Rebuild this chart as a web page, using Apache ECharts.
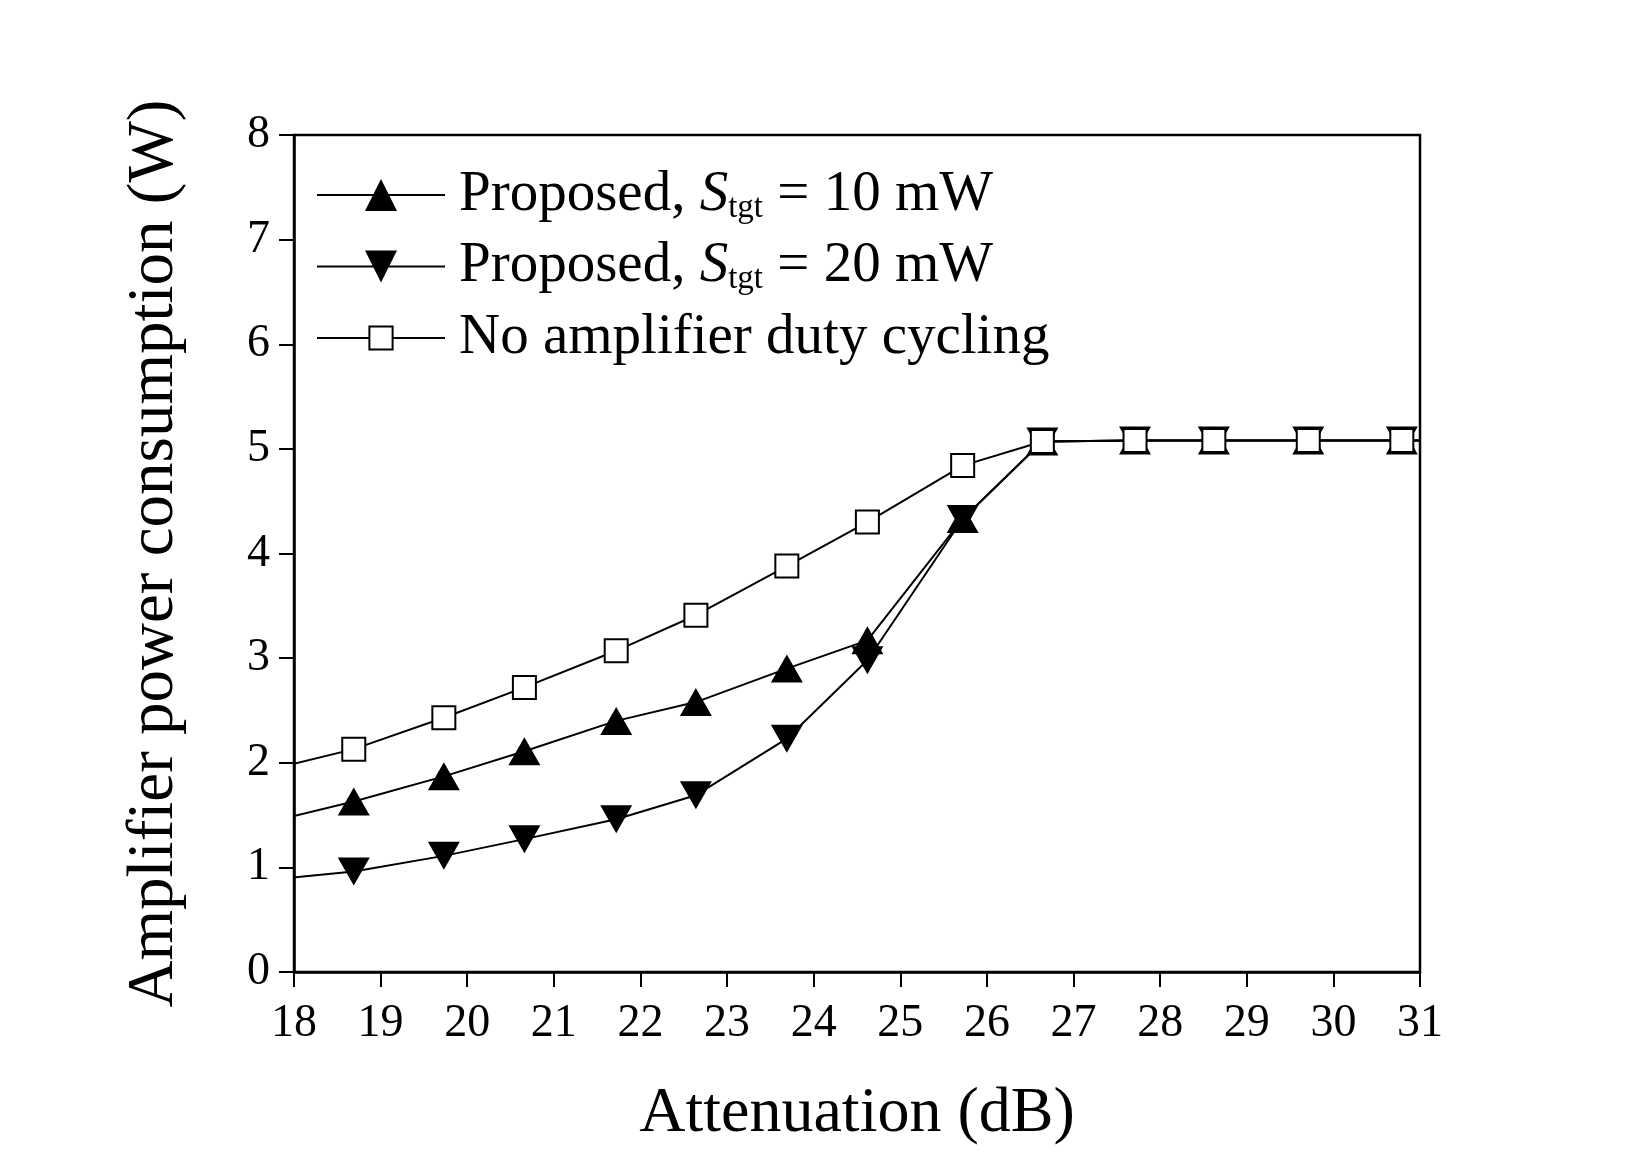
<!DOCTYPE html>
<html>
<head>
<meta charset="utf-8">
<script src="https://cdn.jsdelivr.net/npm/echarts@6/dist/echarts.min.js"></script>
<style>
  html, body { margin: 0; padding: 0; background: #fff; }
  #chart { width: 1650px; height: 1167px; }
</style>
</head>
<body>
<div id="chart"></div>
<script>
  // 数据（首尾各一点落在坐标范围外，由网格裁剪）
  var attenuation = [17.7, 18.69, 19.73, 20.66, 21.72, 22.64, 23.69, 24.62, 25.72, 26.64, 27.71, 28.62, 29.71, 30.79, 31.8];
  var proposed10 = [1.43, 1.63, 1.87, 2.11, 2.40, 2.58, 2.90, 3.17, 4.33, 5.07, 5.08, 5.08, 5.08, 5.08, 5.08];
  var proposed20 = [0.88, 0.96, 1.11, 1.27, 1.46, 1.69, 2.23, 2.98, 4.33, 5.07, 5.08, 5.08, 5.08, 5.08, 5.08];
  var noDutyCycling = [1.93, 2.13, 2.43, 2.72, 3.07, 3.41, 3.88, 4.30, 4.84, 5.07, 5.08, 5.08, 5.08, 5.08, 5.08];
  var seriesNames = ["Proposed, S=10", "Proposed, S=20", "No amplifier duty cycling"];
  var xTicks = [18, 31, 1];
  var yTicks = [0, 8, 1];

  var FONT = '"Liberation Serif", "Times New Roman", serif';
  var downTriangle = "path://M0,0 L20,0 L10,18 Z";

  function pairs(ys) {
    return attenuation.map(function (x, i) { return [x, ys[i]]; });
  }

  var legendText = {
    fontFamily: FONT,
    fontSize: 57,
    color: "#000",
    lineHeight: 58,
    padding: [0, 0, 0, 9],
    rich: {
      i: { fontFamily: FONT, fontSize: 57, fontStyle: "italic", color: "#000" },
      sub: { fontFamily: FONT, fontSize: 33, color: "#000", padding: [26, 0, 0, 0] }
    }
  };

  var myChart = echarts.init(document.getElementById("chart"));

  var option = {
    backgroundColor: "#fff",
    animation: false,
    grid: {
      left: 294,
      right: 230,
      top: 135,
      bottom: 195,
      show: true,
      borderColor: "#000",
      borderWidth: 2.5
    },
    legend: [
      {
        left: 316,
        top: 166,
        padding: 0,
        orient: "vertical",
        itemWidth: 128,
        itemHeight: 40,
        itemGap: 13,
        data: [seriesNames[0], seriesNames[1]],
        formatter: function (name) {
          var s = name === seriesNames[0] ? "10" : "20";
          return "Proposed, {i|S}{sub|tgt} = " + s + " mW";
        },
        textStyle: legendText
      },
      {
        left: 316,
        top: 309,
        padding: 0,
        orient: "vertical",
        itemWidth: 128,
        itemHeight: 29,
        data: [seriesNames[2]],
        textStyle: legendText
      }
    ],
    xAxis: {
      type: "value",
      min: xTicks[0],
      max: xTicks[1],
      interval: xTicks[2],
      name: "Attenuation (dB)",
      nameLocation: "middle",
      nameGap: 110,
      nameTextStyle: { fontFamily: FONT, fontSize: 64, color: "#000" },
      axisLine: { lineStyle: { color: "#000", width: 2.5 } },
      axisTick: { show: true, length: 15, lineStyle: { color: "#000", width: 2 } },
      axisLabel: { fontFamily: FONT, fontSize: 46, color: "#000", margin: 29 },
      splitLine: { show: false }
    },
    yAxis: {
      type: "value",
      min: yTicks[0],
      max: yTicks[1],
      interval: yTicks[2],
      name: "Amplifier power consumption (W)",
      nameLocation: "middle",
      nameGap: 107,
      nameTextStyle: { fontFamily: FONT, fontSize: 65, color: "#000" },
      axisLine: { lineStyle: { color: "#000", width: 2.5 } },
      axisTick: { show: true, length: 15, lineStyle: { color: "#000", width: 2 } },
      axisLabel: { fontFamily: FONT, fontSize: 46, color: "#000", margin: 24 },
      splitLine: { show: false }
    },
    series: [
      {
        name: seriesNames[0],
        type: "line",
        data: pairs(proposed10),
        symbol: "triangle",
        symbolSize: [32, 28],
        showAllSymbol: true,
        lineStyle: { color: "#000", width: 2 },
        itemStyle: { color: "#000", borderColor: "#000", borderWidth: 0 },
        z: 2
      },
      {
        name: seriesNames[1],
        type: "line",
        data: pairs(proposed20),
        symbol: downTriangle,
        symbolSize: [32, 28],
        showAllSymbol: true,
        lineStyle: { color: "#000", width: 2 },
        itemStyle: { color: "#000", borderColor: "#000", borderWidth: 0 },
        z: 2
      },
      {
        name: seriesNames[2],
        type: "line",
        data: pairs(noDutyCycling),
        symbol: "rect",
        symbolSize: 23,
        showAllSymbol: true,
        lineStyle: { color: "#000", width: 2 },
        itemStyle: { color: "#fff", borderColor: "#000", borderWidth: 2 },
        z: 3
      }
    ]
  };

  myChart.setOption(option);
  window.addEventListener("resize", function () {
    myChart.resize();
  });
</script>
</body>
</html>
